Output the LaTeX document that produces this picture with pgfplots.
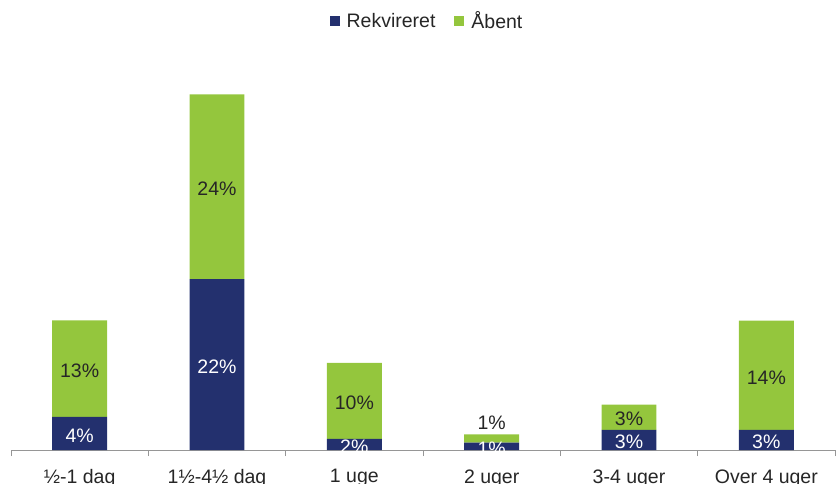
\documentclass[border=0pt]{standalone}
\usepackage{pgfplots}
\pgfplotsset{compat=1.18}
\usepackage{fontspec}
\setmainfont{Liberation Sans}
\definecolor{navy}{RGB}{35,48,110}
\definecolor{lime}{RGB}{148,198,61}
\definecolor{axgray}{RGB}{150,150,150}
\definecolor{txt}{RGB}{38,38,38}
\begin{document}
\begin{tikzpicture}[font=\fontsize{19.5bp}{23bp}\selectfont]
\useasboundingbox (0,0) rectangle (838bp,484bp);
\begin{axis}[
  at={(11bp,34bp)}, anchor=south west,
  scale only axis, width=824bp, height=385bp,
  xmin=-0.5, xmax=5.5, ymin=0, ymax=50,
  ybar stacked, bar width=0.4,
  axis y line=none,
  axis x line*=bottom,
  x axis line style={draw=axgray, line width=1bp, -},
  xtick={0,...,5},
  xticklabels={½-1 dag,1½-4½ dag,1 uge,2 uger,3-4 uger,Over 4 uger},
  major x tick style={draw=none},
  minor xtick={-0.5,0.5,...,5.5},
  minor x tick style={draw=axgray, line width=1bp},
  minor tick length=6bp,
  tick align=outside,
  xticklabel style={text=txt, inner sep=0pt, anchor=north, yshift=-15bp},
  legend style={at={(0.5,1)}, anchor=center, xshift=4bp, yshift=44bp, draw=none, fill=none,
    legend columns=-1, text=txt, inner sep=0pt,
    /tikz/every odd column/.append style={column sep=5bp},
    /tikz/every even column/.append style={column sep=17bp}},
  legend image code/.code={\fill[#1] (0bp,-5bp) rectangle (10bp,5bp);},
  legend cell align=left,
]
\addplot[fill=navy, draw=none] coordinates {(0,4.29) (1,22.2) (2,1.43) (3,0.95) (4,2.6) (5,2.6)};
\addplot[fill=lime, draw=none] coordinates {(0,12.56) (1,24.0) (2,9.9) (3,1.09) (4,3.29) (5,14.2)};
\legend{Rekvireret,Åbent}
\coordinate (b0) at (axis cs:0,2.15);
\coordinate (b1) at (axis cs:1,11.1);
\coordinate (b2) at (axis cs:2,0.72);
\coordinate (b3) at (axis cs:3,0.48);
\coordinate (b4) at (axis cs:4,1.3);
\coordinate (b5) at (axis cs:5,1.3);
\coordinate (g0) at (axis cs:0,10.57);
\coordinate (g1) at (axis cs:1,34.2);
\coordinate (g2) at (axis cs:2,6.38);
\coordinate (g3) at (axis cs:3,3.77);
\coordinate (g4) at (axis cs:4,4.25);
\coordinate (g5) at (axis cs:5,9.7);
\end{axis}
\begin{scope}[every node/.style={yshift=-2bp}]
\node[text=white] at (b0) {4\%};
\node[text=white] at (b1) {22\%};
\node[text=white] at (b2) {2\%};
\node[text=white] at (b3) {1\%};
\node[text=white] at (b4) {3\%};
\node[text=white] at (b5) {3\%};
\node[text=txt] at (g0) {13\%};
\node[text=txt] at (g1) {24\%};
\node[text=txt] at (g2) {10\%};
\node[text=txt] at (g3) {1\%};
\node[text=txt] at (g4) {3\%};
\node[text=txt] at (g5) {14\%};
\end{scope}
\end{tikzpicture}
\end{document}
